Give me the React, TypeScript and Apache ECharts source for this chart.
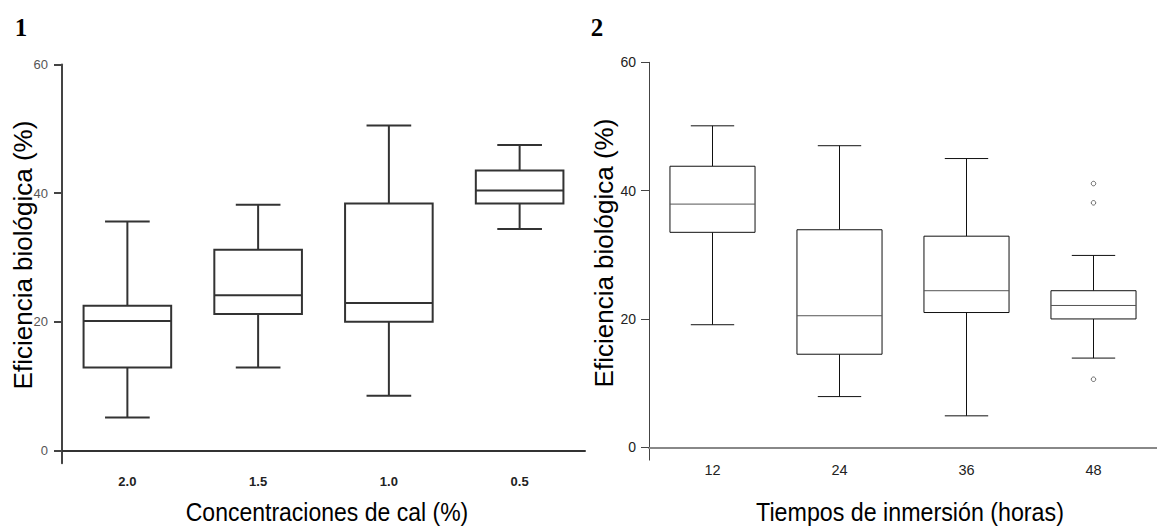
import React, { useEffect, useRef } from "react";
import * as echarts from "echarts";

// Panel 1: Concentraciones de cal (%)
const cal_categories = ["2.0", "1.5", "1.0", "0.5"];
// [min, Q1, median, Q3, max]
const cal_boxes = [
  [5.1, 12.9, 20.1, 22.5, 35.6],
  [12.9, 21.2, 24.1, 31.2, 38.2],
  [8.5, 20.0, 22.9, 38.4, 50.5],
  [34.4, 38.4, 40.4, 43.5, 47.5],
];

// Panel 2: Tiempos de inmersión (horas)
const time_categories = ["12", "24", "36", "48"];
const time_boxes = [
  [19.1, 33.5, 37.9, 43.8, 50.1],
  [7.9, 14.5, 20.5, 33.9, 47.0],
  [4.9, 21.0, 24.4, 32.9, 45.0],
  [13.9, 20.0, 22.1, 24.4, 29.9],
];
// outliers: [categoryIndex, value]
const time_outliers = [
  [3, 41.1],
  [3, 38.1],
  [3, 10.6],
];

const y_ticks = [0, 20, 40, 60];

function makeRender(lineWidth: number, stroke: string, medianStroke: string) {
  return (params: any, api: any) => {
    const cat = api.value(0);
    const vals = [api.value(1), api.value(2), api.value(3), api.value(4), api.value(5)];
    const band = api.size([1, 0])[0];
    const bw = band * 0.67;
    const cw = bw * 0.51;
    const p = vals.map((v: number) => api.coord([cat, v]));
    const cx = p[0][0];
    const yMin = p[0][1], yQ1 = p[1][1], yMed = p[2][1], yQ3 = p[3][1], yMax = p[4][1];
    const ls = { stroke, lineWidth, fill: null };
    return {
      type: "group",
      children: [
        { type: "line", shape: { x1: cx, y1: yMax, x2: cx, y2: yQ3 }, style: ls },
        { type: "line", shape: { x1: cx, y1: yQ1, x2: cx, y2: yMin }, style: ls },
        { type: "line", shape: { x1: cx - cw / 2, y1: yMax, x2: cx + cw / 2, y2: yMax }, style: ls },
        { type: "line", shape: { x1: cx - cw / 2, y1: yMin, x2: cx + cw / 2, y2: yMin }, style: ls },
        { type: "rect", shape: { x: cx - bw / 2, y: yQ3, width: bw, height: yQ1 - yQ3 }, style: { stroke, lineWidth, fill: "#fff" } },
        { type: "line", shape: { x1: cx - bw / 2, y1: yMed, x2: cx + bw / 2, y2: yMed }, style: { stroke: medianStroke, lineWidth, fill: null } },
      ],
    };
  };
}

export default function App() {
  const ref = useRef<HTMLDivElement>(null);
  useEffect(() => {
    if (!ref.current) return;
    const chart = echarts.init(ref.current, undefined, { renderer: "svg" });
    const sans = "Liberation Sans, Arial, sans-serif";
    const serif = "'Liberation Serif', 'Times New Roman', serif";
    chart.setOption({
      animation: false,
      backgroundColor: "#fff",
      grid: [
        { left: 62, top: 64.5, width: 523, height: 398.7 },
        { left: 649, top: 62.3, width: 524, height: 397.8 },
      ],
      xAxis: [
        {
          gridIndex: 0,
          type: "category",
          data: cal_categories,
          axisLine: { lineStyle: { color: "#333", width: 2 } },
          axisTick: { show: false },
          axisLabel: { color: "#222", fontSize: 13, fontWeight: "bold", fontFamily: sans, margin: 12 },
        },
        {
          gridIndex: 1,
          type: "category",
          data: time_categories,
          axisLine: { lineStyle: { color: "#888", width: 2 } },
          axisTick: { show: false },
          axisLabel: { color: "#222", fontSize: 14.5, fontFamily: sans, margin: 2 },
        },
      ],
      yAxis: [
        {
          gridIndex: 0,
          type: "value",
          min: -2,
          max: 60,
          splitLine: { show: false },
          axisLine: { show: true, lineStyle: { color: "#444", width: 2 } },
          axisTick: { show: true, length: 8, customValues: y_ticks, lineStyle: { color: "#444", width: 2 } },
          axisLabel: { customValues: y_ticks, color: "#555", fontSize: 13, fontFamily: sans, margin: 14 },
        },
        {
          gridIndex: 1,
          type: "value",
          min: -2,
          max: 60,
          splitLine: { show: false },
          axisLine: { show: true, lineStyle: { color: "#444", width: 1 } },
          axisTick: { show: true, length: 8, customValues: y_ticks, lineStyle: { color: "#444", width: 1 } },
          axisLabel: { customValues: y_ticks, color: "#222", fontSize: 14, fontFamily: sans, margin: 13 },
        },
      ],
      series: [
        {
          type: "custom",
          xAxisIndex: 0,
          yAxisIndex: 0,
          renderItem: makeRender(2, "#333", "#333"),
          encode: { x: 0, y: [1, 2, 3, 4, 5] },
          data: cal_boxes.map((b, i) => [i, ...b]),
        },
        {
          type: "custom",
          xAxisIndex: 1,
          yAxisIndex: 1,
          renderItem: makeRender(1, "#111", "#555"),
          encode: { x: 0, y: [1, 2, 3, 4, 5] },
          data: time_boxes.map((b, i) => [i, ...b]),
        },
        {
          type: "scatter",
          xAxisIndex: 1,
          yAxisIndex: 1,
          symbol: "circle",
          symbolSize: 4.5,
          itemStyle: { color: "#fff", borderColor: "#444", borderWidth: 1 },
          data: time_outliers,
        },
      ],
      graphic: [
        { type: "text", x: 21, y: 27, style: { text: "1", font: "bold 25px " + serif, fill: "#000", align: "center", verticalAlign: "middle" } },
        { type: "text", x: 597, y: 27, style: { text: "2", font: "bold 25px " + serif, fill: "#000", align: "center", verticalAlign: "middle" } },
        {
          type: "text",
          x: 23,
          y: 255,
          rotation: Math.PI / 2,
          style: { text: "Eficiencia biológica (%)", font: "26px " + sans, fill: "#000", align: "center", verticalAlign: "middle" },
        },
        {
          type: "text",
          x: 604,
          y: 253,
          rotation: Math.PI / 2,
          style: { text: "Eficiencia biológica (%)", font: "26px " + sans, fill: "#000", align: "center", verticalAlign: "middle" },
        },
        {
          type: "text",
          x: 327,
          y: 512,
          scaleX: 0.92,
          style: { text: "Concentraciones de cal (%)", font: "25px " + sans, fill: "#000", align: "center", verticalAlign: "middle" },
        },
        {
          type: "text",
          x: 910,
          y: 512,
          scaleX: 0.93,
          style: { text: "Tiempos de inmersión (horas)", font: "25px " + sans, fill: "#000", align: "center", verticalAlign: "middle" },
        },
      ],
    });
    return () => chart.dispose();
  }, []);
  return (
    <div
      ref={ref}
      style={{ position: "fixed", left: 0, top: 0, width: 1157, height: 527, background: "#fff" }}
    />
  );
}
